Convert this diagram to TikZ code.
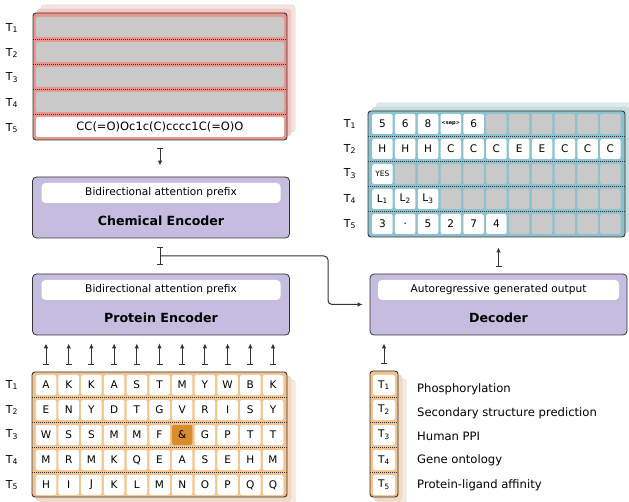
\documentclass[tikz,border=0pt]{standalone}
\usepackage{fontspec}
\setmainfont{DejaVu Sans}
\usepackage{tikz}
\usetikzlibrary{arrows.meta}
\usetikzlibrary{calc}
\definecolor{encpurple}{HTML}{C5BDDF}
\definecolor{chemred}{HTML}{E9968F}
\definecolor{chemred1}{HTML}{F3C7C3}
\definecolor{chemred2}{HTML}{F8E2DF}
\definecolor{outteal}{HTML}{8CC2CE}
\definecolor{outteal1}{HTML}{C6DCE1}
\definecolor{outteal2}{HTML}{DFE9EB}
\definecolor{protorange}{HTML}{F4C490}
\definecolor{protorange1}{HTML}{F2D9C2}
\definecolor{protorange2}{HTML}{F8EADD}
\definecolor{ampfill}{HTML}{D98C2C}
\definecolor{emptygray}{HTML}{C9C9C9}
\definecolor{edgegray}{HTML}{333333}
\tikzstyle{encblock} = [rectangle, draw=edgegray, fill=encpurple, line width=0.8pt,
    rounded corners=4pt, minimum width=257pt, minimum height=61pt, inner sep=0pt]
\tikzstyle{prefixbar} = [rectangle, fill=white, rounded corners=4pt, minimum width=239pt,
    minimum height=20pt, inner sep=0pt, font=\fontsize{10.6}{12}\selectfont]
\tikzstyle{enctitle} = [font=\fontsize{12.6}{14}\selectfont\bfseries]
\tikzstyle{gridframe} = [rectangle, draw=edgegray, line width=0.9pt, rounded corners=3pt, inner sep=0pt]
\tikzstyle{backframe} = [gridframe, draw=black!14, line width=0.5pt]
\tikzstyle{cell} = [rectangle, fill=white, rounded corners=2pt, minimum width=20.5pt,
    minimum height=20pt, inner sep=0pt, font=\fontsize{10.5}{12}\selectfont]
\tikzstyle{emptycell} = [cell, fill=emptygray]
\tikzstyle{chemrow} = [cell, fill=emptygray, minimum width=248pt]
\tikzstyle{rowsep} = [dash pattern=on 1pt off 1pt, line width=1pt, edgegray]
\tikzstyle{rowlabel} = [font=\fontsize{11}{12}\selectfont]
\tikzstyle{tasklabel} = [anchor=west, inner sep=0pt, font=\fontsize{11.6}{13}\selectfont]
\tikzstyle{link} = [{Bar[width=6pt]}-{Latex[length=5pt,width=4.6pt]}, line width=1pt, edgegray]

\begin{document}
\begin{tikzpicture}[x=1pt, y=-1pt]
    \useasboundingbox (0,0) rectangle (629,502);

    % chemical input (SMILES)
    \node [backframe, fill=chemred2, minimum width=254pt, minimum height=127pt] (chemback2) at (168,68.5) {};
    \node [backframe, fill=chemred1, minimum width=254pt, minimum height=127pt] (chemback1) at (164,72.5) {};
    \node [gridframe, fill=chemred, minimum width=254pt, minimum height=127pt] (chemgrid) at (160,76.5) {};
    \foreach \r in {1,...,4}
        \node [chemrow] (crow\r) at (160,{2+25*\r}) {};
    \node [chemrow, fill=white, font=\fontsize{11.5}{13}\selectfont] (crow5) at (160,127) {CC(=O)Oc1c(C)cccc1C(=O)O};
    \foreach \y in {39.5,64.5,89.5,114.5}
        \draw [rowsep] (33,\y) -- (287,\y);
    \foreach \r in {1,...,5}
        \node [rowlabel] (ct\r) at (12,{3+25*\r}) {T\textsubscript{\r}};

    % encoders
    \node [encblock] (chemenc) at (161,207.5) {};
    \node [prefixbar] (chemprefix) at (161,193) {Bidirectional attention prefix};
    \node [enctitle] (chemtitle) at (161,221) {Chemical Encoder};
    \node [encblock] (protenc) at (161,304.5) {};
    \node [prefixbar] (protprefix) at (161,290) {Bidirectional attention prefix};
    \node [enctitle] (prottitle) at (161,318) {Protein Encoder};

    % decoder
    \node [encblock] (decoder) at (498.5,304.5) {};
    \node [prefixbar, minimum width=241pt] (decprefix) at (498.5,290) {Autoregressive generated output};
    \node [enctitle] (dectitle) at (498.5,318) {Decoder};

    % generated output
    \node [backframe, fill=outteal2, minimum width=257pt, minimum height=126pt] (outback2) at (504.5,166) {};
    \node [backframe, fill=outteal1, minimum width=257pt, minimum height=126pt] (outback1) at (500.5,170) {};
    \node [gridframe, fill=outteal, minimum width=257pt, minimum height=126pt] (outgrid) at (496.5,174) {};
    \foreach [count=\c] \t in {5,6,8,{\fontsize{5}{6}\selectfont\bfseries<sep>},6}
        \node [cell] (o-1-\c) at ({382.4+22.8*(\c-1)},124) {\t};
    \foreach \c in {6,...,11}
        \node [emptycell] (o-1-\c) at ({382.4+22.8*(\c-1)},124) {};
    \foreach [count=\c] \t in {H,H,H,C,C,C,E,E,C,C,C}
        \node [cell] (o-2-\c) at ({382.4+22.8*(\c-1)},149) {\t};
    \node [cell, font=\fontsize{7.5}{9}\selectfont] (o-3-1) at (382.4,174) {YES};
    \foreach \c in {2,...,11}
        \node [emptycell] (o-3-\c) at ({382.4+22.8*(\c-1)},174) {};
    \foreach [count=\c] \t in {L\textsubscript{1},L\textsubscript{2},L\textsubscript{3}}
        \node [cell] (o-4-\c) at ({382.4+22.8*(\c-1)},199) {\t};
    \foreach \c in {4,...,11}
        \node [emptycell] (o-4-\c) at ({382.4+22.8*(\c-1)},199) {};
    \foreach [count=\c] \t in {3,.,5,2,7,4}
        \node [cell] (o-5-\c) at ({382.4+22.8*(\c-1)},224) {\t};
    \foreach \c in {7,...,11}
        \node [emptycell] (o-5-\c) at ({382.4+22.8*(\c-1)},224) {};
    \foreach \y in {136.5,161.5,186.5,211.5}
        \draw [rowsep] (368,\y) -- (625,\y);
    \foreach \r in {1,...,5}
        \node [rowlabel] (ot\r) at (350,{99+25*\r}) {T\textsubscript{\r}};

    % protein input
    \node [backframe, fill=protorange2, minimum width=255pt, minimum height=125pt] (protback2) at (167.5,442.5) {};
    \node [backframe, fill=protorange1, minimum width=255pt, minimum height=125pt] (protback1) at (163.5,438.5) {};
    \node [gridframe, fill=protorange, minimum width=255pt, minimum height=125pt] (protgrid) at (159.5,434.5) {};
    \foreach [count=\c] \t in {A,K,K,A,S,T,M,Y,W,B,K}
        \node [cell] (p-1-\c) at ({46+22.7*(\c-1)},385) {\t};
    \foreach [count=\c] \t in {E,N,Y,D,T,G,V,R,I,S,Y}
        \node [cell] (p-2-\c) at ({46+22.7*(\c-1)},410) {\t};
    \foreach [count=\c] \t in {W,S,S,M,M,F}
        \node [cell] (p-3-\c) at ({46+22.7*(\c-1)},435) {\t};
    \node [cell, fill=ampfill] (p-3-7) at (182.2,435) {\&};
    \foreach [count=\c from 8] \t in {G,P,T,T}
        \node [cell] (p-3-\c) at ({46+22.7*(\c-1)},435) {\t};
    \foreach [count=\c] \t in {M,R,M,K,Q,E,A,S,E,H,M}
        \node [cell] (p-4-\c) at ({46+22.7*(\c-1)},460) {\t};
    \foreach [count=\c] \t in {H,I,J,K,L,M,N,O,P,Q,Q}
        \node [cell] (p-5-\c) at ({46+22.7*(\c-1)},485) {\t};
    \foreach \y in {397.5,422.5,447.5,472.5}
        \draw [rowsep] (32,\y) -- (287,\y);
    \foreach \r in {1,...,5}
        \node [rowlabel] (pt\r) at (12,{360+25*\r}) {T\textsubscript{\r}};

    % task tokens
    \node [backframe, fill=protorange2, minimum width=28pt, minimum height=126pt] (taskback2) at (392,442) {};
    \node [backframe, fill=protorange1, minimum width=28pt, minimum height=126pt] (taskback1) at (388,438) {};
    \node [gridframe, fill=protorange, minimum width=28pt, minimum height=126pt] (taskcol) at (384,434) {};
    \foreach \r in {1,...,5}
        \node [cell, minimum width=22pt] (tc\r) at (384,{360+25*\r}) {T\textsubscript{\r}};
    \foreach \y in {397.5,422.5,447.5,472.5}
        \draw [rowsep] (370,\y) -- (398,\y);
    \node [tasklabel] (task1) at (417,389) {Phosphorylation};
    \node [tasklabel] (task2) at (417,413) {Secondary structure prediction};
    \node [tasklabel] (task3) at (417,436) {Human PPI};
    \node [tasklabel] (task4) at (417,460) {Gene ontology};
    \node [tasklabel] (task5) at (417,485) {Protein-ligand affinity};

    % Draw edges
    \draw [link, shorten <=8pt, shorten >=11pt] (chemgrid.south) -- (chemgrid.south |- chemenc.north);
    \draw [{Bar[width=6pt]}-{Bar[width=6pt]}, line width=1pt, edgegray, shorten <=9pt, shorten >=9pt]
        (chemgrid.south |- chemenc.south) -- (chemgrid.south |- protenc.north);
    \coordinate (branch) at ($(chemgrid.south |- chemenc.south)!0.5!(chemgrid.south |- protenc.north)$);
    \coordinate (bend) at (328,256);
    \draw [-{Latex[length=5pt,width=4.6pt]}, line width=1pt, edgegray, rounded corners=4pt, shorten >=7pt]
        (branch) -- (bend) |- (decoder.west);
    \foreach \c in {1,...,11}
        \draw [link, shorten <=7pt, shorten >=8pt] (p-1-\c |- protgrid.north) -- (p-1-\c |- protenc.south);
    \draw [link, shorten <=7pt, shorten >=8pt] (taskcol.north) -- (taskcol.north |- decoder.south);
    \draw [link, shorten <=7pt, shorten >=10pt] (decoder.north) -- (decoder.north |- outgrid.south);
\end{tikzpicture}
\end{document}
